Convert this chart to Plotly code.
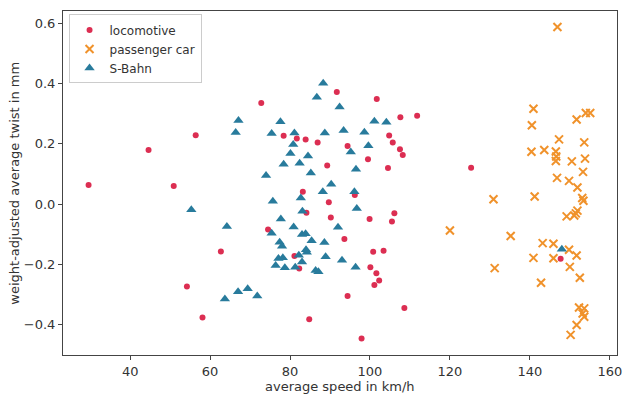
import plotly.graph_objects as go

# locomotive
loco_speed = [29.6, 44.6, 50.9, 54.2, 56.4, 58.1, 62.7, 72.8, 74.5, 78.4, 81.1, 81.7, 82.3, 83.2,
              83.9, 84.1, 84.8, 86.9, 89.3, 89.7, 90.2, 91.7, 93.6, 94.4, 94.4, 96.2, 97.9, 99.5,
              99.9, 100.1, 100.8, 101.1, 101.6, 101.7, 102.3, 103.4, 104.5, 104.8, 105.5, 105.7,
              106.1, 107.5, 107.6, 108.2, 108.6, 111.8, 125.3, 147.7]
loco_twist = [0.063, 0.18, 0.06, -0.274, 0.229, -0.377, -0.158, 0.336, -0.085, 0.227, -0.173, 0.218,
              -0.214, 0.041, 0.215, -0.029, -0.383, 0.205, 0.128, 0.006, -0.045, 0.373, -0.116, 0.193,
              -0.306, 0.03, -0.447, 0.149, -0.05, -0.21, -0.159, -0.269, -0.23, 0.349, -0.254, -0.155,
              0.12, 0.228, -0.058, 0.205, -0.031, 0.182, 0.289, 0.163, -0.346, 0.294, 0.121, -0.182]

# passenger car
car_speed = [120.0, 130.9, 131.2, 135.2, 140.4, 140.5, 140.9, 140.9, 141.2, 142.8, 143.2, 143.6,
             145.9, 145.9, 146.5, 146.6, 146.5, 146.8, 146.9, 147.3, 149.2, 149.8, 149.8, 150.0,
             150.2, 150.5, 151.1, 151.5, 151.9, 151.7, 151.7, 151.7, 151.9, 152.3, 152.5, 153.1,
             153.4, 153.3, 153.6, 153.6, 153.2, 153.6, 153.8, 154.0, 155.1]
car_twist = [-0.088, 0.016, -0.213, -0.106, 0.174, 0.262, 0.317, -0.179, 0.025, -0.262, -0.13, 0.18,
             -0.132, -0.18, 0.175, 0.158, 0.143, 0.087, 0.589, 0.215, -0.041, 0.077, -0.152, -0.209,
             -0.435, 0.142, -0.038, -0.031, -0.022, 0.281, -0.171, -0.402, 0.055, -0.344, -0.245, 0.02,
             0.011, 0.107, 0.205, -0.347, -0.364, -0.375, 0.151, 0.303, 0.303]

# S-Bahn
sb_speed = [55.3, 63.7, 64.2, 66.4, 67.0, 67.1, 69.4, 71.8, 74.0, 75.4, 75.4, 75.7, 76.4, 77.1,
            77.4, 77.6, 77.7, 78.0, 78.2, 78.4, 78.7, 80.1, 80.8, 80.9, 81.1, 81.3, 82.2, 82.4,
            82.7, 83.0, 83.0, 83.1, 83.9, 84.0, 84.2, 84.5, 85.2, 85.4, 86.4, 86.7, 87.1, 88.2,
            88.3, 88.6, 88.7, 88.9, 90.3, 92.0, 92.4, 93.0, 93.4, 95.2, 96.1, 96.4, 96.5, 96.7,
            98.6, 99.6, 101.1, 104.1, 148.0]
sb_twist = [-0.019, -0.316, -0.075, 0.238, -0.292, 0.278, -0.282, -0.306, 0.095, 0.235, -0.097,
            0.009, -0.204, -0.181, -0.127, 0.274, -0.05, -0.14, -0.179, 0.132, -0.212, 0.168, 0.198,
            -0.076, 0.236, -0.21, -0.17, 0.136, 0.02, -0.101, -0.193, -0.024, -0.099, -0.152, -0.16,
            0.16, 0.103, -0.122, -0.221, 0.355, -0.225, 0.041, 0.402, -0.128, 0.236, -0.175, 0.066,
            -0.077, 0.323, -0.187, 0.245, 0.173, 0.041, -0.21, 0.116, -0.015, 0.239, 0.194, 0.275,
            0.272, -0.15]

x_ticks = [40, 60, 80, 100, 120, 140, 160]
y_ticks = [-0.4, -0.2, 0.0, 0.2, 0.4, 0.6]

RED = "#dc2e52"
ORANGE = "#f0922b"
BLUE = "#287b9c"
FONT = "DejaVu Sans"

fig = go.Figure()
fig.add_trace(go.Scatter(x=loco_speed, y=loco_twist, mode="markers", name="locomotive",
                         marker=dict(symbol="circle", size=6, color=RED, line=dict(width=0))))
fig.add_trace(go.Scatter(x=car_speed, y=car_twist, mode="markers", name="passenger car",
                         marker=dict(symbol="x-thin", size=8, color=ORANGE,
                                     line=dict(width=2, color=ORANGE))))
fig.add_trace(go.Scatter(x=sb_speed, y=sb_twist, mode="markers", name="S-Bahn",
                         marker=dict(symbol="triangle-up", size=9, color=BLUE, line=dict(width=0))))

axis_common = dict(showline=True, mirror=True, linecolor="#444", linewidth=1, ticks="outside",
                   ticklen=4, tickwidth=1, tickcolor="#444", showgrid=False, zeroline=False,
                   automargin=False, tickfont=dict(family=FONT, size=13, color="#333"))

fig.update_xaxes(range=[23.2, 161.8], tickvals=x_ticks, **axis_common)
fig.update_yaxes(range=[-0.502, 0.642], tickvals=y_ticks, tickformat=".1f", **axis_common)

fig.add_annotation(text="average speed in km/h", xref="paper", yref="paper",
                   x=0.5, y=-0.092, xanchor="center", yanchor="middle", showarrow=False,
                   font=dict(family=FONT, size=13, color="#333"))
fig.add_annotation(text="weight-adjusted average twist in mm", xref="paper", yref="paper",
                   x=-0.089, y=0.5, xanchor="center", yanchor="middle", showarrow=False,
                   textangle=-90, font=dict(family=FONT, size=13, color="#333"))

fig.update_layout(
    width=623, height=394,
    margin=dict(l=63, r=6, t=11, b=39),
    plot_bgcolor="white", paper_bgcolor="white",
    font=dict(family=FONT, size=13, color="#333"),
    showlegend=True,
    legend=dict(x=0.01, y=0.99, xanchor="left", yanchor="top",
                bordercolor="#cccccc", borderwidth=1, bgcolor="rgba(255,255,255,0.8)",
                font=dict(family=FONT, size=12, color="#333"), tracegroupgap=0),
)

fig.write_html("out.html", config={"displayModeBar": False},
               post_script="document.body.style.margin='0';document.body.style.overflow='hidden';")
